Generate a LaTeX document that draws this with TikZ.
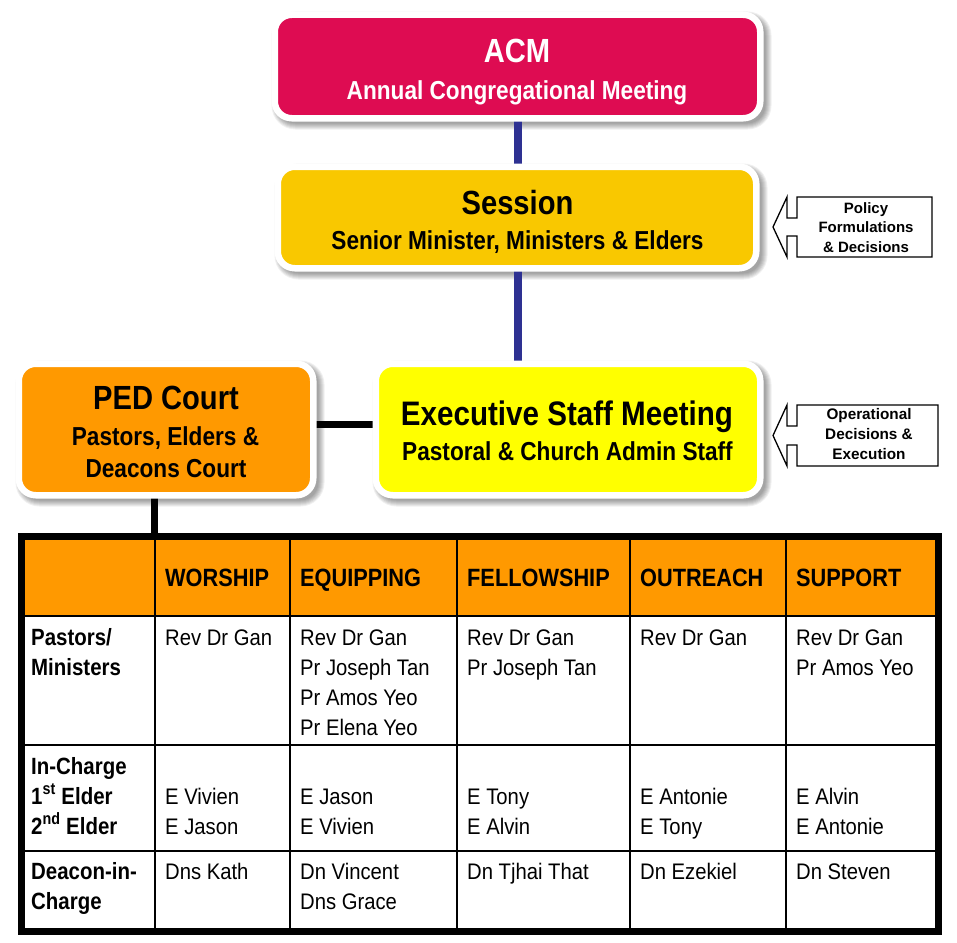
\documentclass[tikz,border=0pt]{standalone}
\usepackage{fontspec}
\setmainfont{Liberation Sans}
\newfontfamily\regc{Liberation Sans}[FakeStretch=0.9]
\newfontfamily\boldc{Liberation Sans}[FakeStretch=0.87]
\usetikzlibrary{calc}
\pgfdeclarelayer{bg}
\pgfsetlayers{bg,main}
\definecolor{acmc}{RGB}{222,12,82}
\definecolor{sesc}{RGB}{249,200,0}
\definecolor{exyc}{RGB}{255,255,0}
\definecolor{pedc}{RGB}{255,153,0}
\definecolor{navyc}{RGB}{46,49,146}
\newcommand{\celltxt}[1]{\begin{tabular}[t]{@{}l@{}}#1\end{tabular}}
\newcommand{\ctrtxt}[1]{\begin{tabular}[t]{@{}c@{}}#1\end{tabular}}
\newcommand{\boxshadow}[1]{%
  \foreach \e in {-2,-1,0,1,2,3,4}{%
    \fill[black, opacity=0.06, rounded corners=20+\e]
      ($(#1.north west)+(0.75-\e,0.75-\e)$) rectangle ($(#1.south east)+(7.25+\e,7.25+\e)$);}}
\tikzset{
  orgbox/.style={rectangle, rounded corners=17, draw=white, line width=6.5, outer sep=0, inner sep=0},
  ttl/.style={font=\boldc\bfseries\fontsize{33.5}{36}\selectfont, anchor=base, inner sep=0},
  subt/.style={font=\boldc\bfseries\fontsize{26}{32}\selectfont, anchor=base, inner sep=0},
  callt/.style={font=\bfseries\fontsize{15}{19.5}\selectfont, anchor=base, inner sep=0},
  callout/.style={draw=black, line width=1.3, line join=miter, fill=white},
  navyconn/.style={draw=navyc, line width=8},
  blkconn/.style={draw=black, line width=6.5},
  gridl/.style={draw=black, line width=1.5},
  hdr/.style={font=\boldc\bfseries\fontsize{25}{30}\selectfont, anchor=base west, inner sep=0},
  rowl/.style={font=\boldc\bfseries\fontsize{23.5}{30}\selectfont, anchor=base west, inner sep=0},
  cellt/.style={font=\regc\fontsize{22.5}{30}\selectfont, anchor=base west, inner sep=0},
}
\begin{document}
\begin{tikzpicture}[x=1pt,y=-1pt]
\useasboundingbox (0,0) rectangle (957,942);

% ---------- boxes ----------
\node[orgbox, fill=acmc, minimum width=485.5, minimum height=103.5] (acm) at (517.5,66.5) {};
\node[ttl, text=white] (acmt) at (517,63) {ACM};
\node[subt, text=white] (acms) at (517,99) {Annual Congregational Meeting};

\node[orgbox, fill=sesc, minimum width=478.5, minimum height=101.5] (ses) at (517,217.5) {};
\node[ttl] (sest) at (517.5,214) {Session};
\node[subt] (sess) at (517.5,249) {Senior Minister, Ministers \& Elders};

\node[orgbox, fill=exyc, minimum width=384.5, minimum height=131.5] (exe) at (568,429.5) {};
\node[ttl, font=\boldc\bfseries\fontsize{34}{36}\selectfont] (exet) at (567,425) {Executive Staff Meeting};
\node[subt] (exes) at (567.5,460) {Pastoral \& Church Admin Staff};

\node[orgbox, fill=pedc, minimum width=294.5, minimum height=131.5] (ped) at (166,429.5) {};
\node[ttl] (pedt) at (166,409) {PED Court};
\node[subt] (peds1) at (165.5,445) {Pastors, Elders \&};
\node[subt] (peds2) at (166,477) {Deacons Court};

% ---------- callouts ----------
\draw[callout] (932,197) -- (797,197) -- (797,218) -- (787,218) -- (787,197) -- (773,227)
  -- (787,257) -- (787,236) -- (797,236) -- (797,257) -- (932,257) -- cycle;
\node[callt] (polc) at (866,213) {\ctrtxt{Policy\\Formulations\\\& Decisions}};

\draw[callout] (938,405) -- (797,405) -- (797,426) -- (787,426) -- (787,405) -- (773,435.5)
  -- (787,466) -- (787,445) -- (797,445) -- (797,466) -- (938,466) -- cycle;
\node[callt, font=\bfseries\fontsize{15.3}{20}\selectfont] (opc) at (869,419.7) {\ctrtxt{Operational\\Decisions \&\\Execution}};

% ---------- table ----------
\fill[pedc] (25,540) rectangle (935,616);
\foreach \xx in {155,290,457,630,786} \draw[gridl] (\xx,540) -- (\xx,928);
\foreach \yy in {616,745,851} \draw[gridl] (25,\yy) -- (935,\yy);
\node[draw=black, line width=7, minimum width=917, minimum height=395.5, inner sep=0, outer sep=0] (tbl) at (480,733.75) {};
\coordinate (pedleg) at (154.5,536);

\node[hdr] (h1) at (165,586) {WORSHIP};
\node[hdr] (h2) at (300,586) {EQUIPPING};
\node[hdr] (h3) at (467,586) {FELLOWSHIP};
\node[hdr] (h4) at (640,586) {OUTREACH};
\node[hdr] (h5) at (796,586) {SUPPORT};

\node[rowl] (r1) at (31,645) {\celltxt{Pastors/\\Ministers}};
\node[rowl] (r2) at (31,774) {\celltxt{In-Charge\\1\textsuperscript{st} Elder\\2\textsuperscript{nd} Elder}};
\node[rowl] (r3) at (31,879) {\celltxt{Deacon-in-\\Charge}};

\node[cellt] (a1) at (165,645) {Rev Dr Gan};
\node[cellt] (a2) at (300,645) {\celltxt{Rev Dr Gan\\Pr Joseph Tan\\Pr Amos Yeo\\Pr Elena Yeo}};
\node[cellt] (a3) at (467,645) {\celltxt{Rev Dr Gan\\Pr Joseph Tan}};
\node[cellt] (a4) at (640,645) {Rev Dr Gan};
\node[cellt] (a5) at (796,645) {\celltxt{Rev Dr Gan\\Pr Amos Yeo}};

\node[cellt] (b1) at (165,804) {\celltxt{E Vivien\\E Jason}};
\node[cellt] (b2) at (300,804) {\celltxt{E Jason\\E Vivien}};
\node[cellt] (b3) at (467,804) {\celltxt{E Tony\\E Alvin}};
\node[cellt] (b4) at (640,804) {\celltxt{E Antonie\\E Tony}};
\node[cellt] (b5) at (796,804) {\celltxt{E Alvin\\E Antonie}};

\node[cellt] (c1) at (165,879) {Dns Kath};
\node[cellt] (c2) at (300,879) {\celltxt{Dn Vincent\\Dns Grace}};
\node[cellt] (c3) at (467,879) {Dn Tjhai That};
\node[cellt] (c4) at (640,879) {Dn Ezekiel};
\node[cellt] (c5) at (796,879) {Dn Steven};

% ---------- background, shadows and connectors ----------
\begin{pgfonlayer}{bg}
\fill[white] (0,0) rectangle (957,942);
\boxshadow{acm}
\boxshadow{ses}
\boxshadow{exe}
\boxshadow{ped}
\draw[navyconn] ([xshift=0.5pt]acm.south) -- ([xshift=0.5pt]acm.south |- ses.north);
\draw[navyconn] ([xshift=1pt]ses.south) -- ([xshift=1pt,yshift=3pt]ses.south |- exe.north);
\draw[blkconn] ([yshift=5pt]ped.east) -- ([yshift=5pt]exe.west);
\draw[blkconn] (ped.south -| pedleg) -- (pedleg);
\end{pgfonlayer}
\end{tikzpicture}
\end{document}
